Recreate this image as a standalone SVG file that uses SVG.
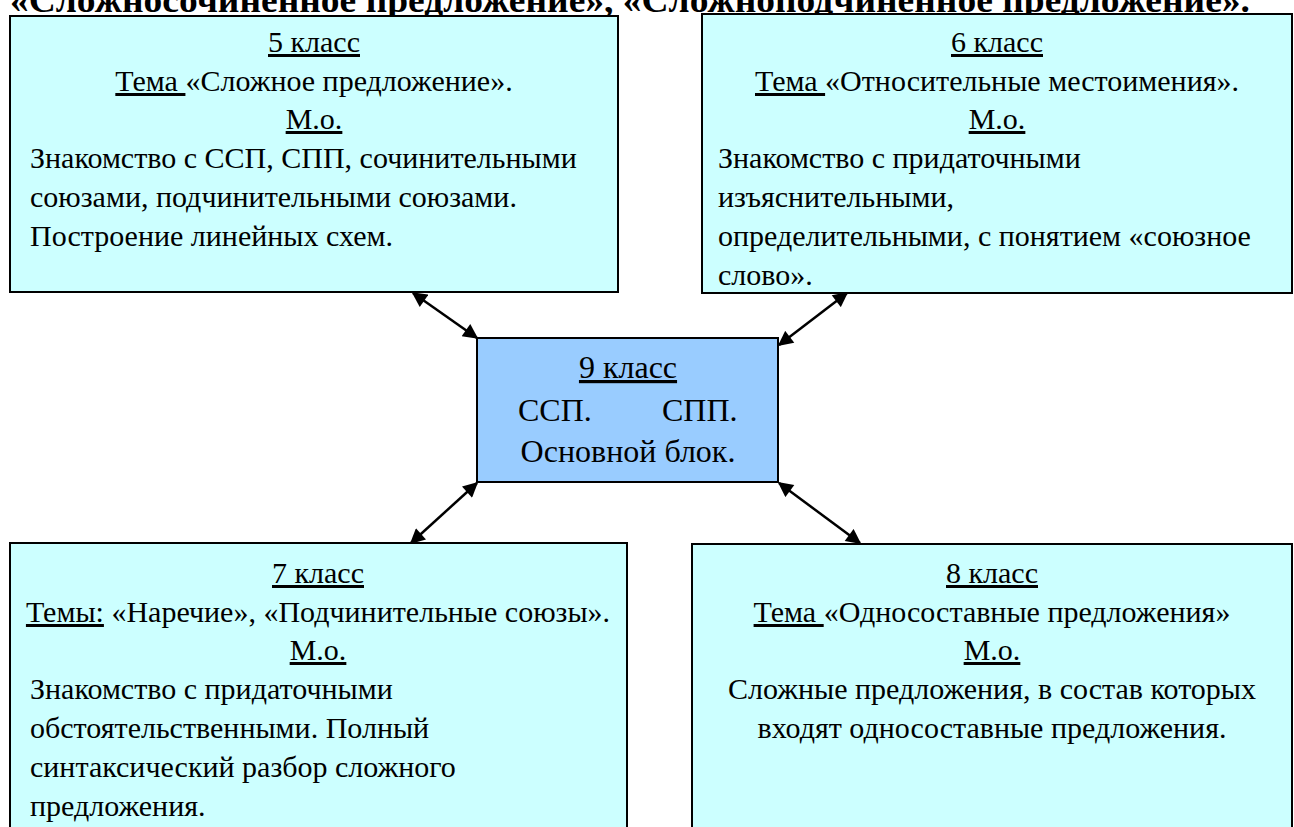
<svg xmlns="http://www.w3.org/2000/svg" width="1294" height="827" viewBox="0 0 1294 827">
<defs>
<style>
.box{fill:#CCFFFF;stroke:#000;stroke-width:2}
.main{fill:#99CCFF;stroke:#000;stroke-width:2}
text{font-family:"Liberation Serif","Times New Roman",serif;font-size:30px;fill:#000}
.c{text-anchor:middle}
.u{text-decoration:underline}
.big{font-size:32px}
.title{font-weight:bold;font-size:36px}
.con{stroke:#000;stroke-width:2.5;fill:none;marker-start:url(#ah);marker-end:url(#ah)}
</style>
<marker id="ah" viewBox="0 0 10 10" refX="9" refY="5" markerWidth="6.5" markerHeight="6" orient="auto-start-reverse" markerUnits="strokeWidth">
<path d="M0,0 L10,5 L0,10 Z" fill="#000"/>
</marker>
</defs>
<rect width="1294" height="827" fill="#fff"/>
<text class="title" x="10" y="12" textLength="1240" lengthAdjust="spacingAndGlyphs">«Сложносочиненное предложение», «Сложноподчиненное предложение».</text>

<g id="connectors">
<line class="con" x1="413" y1="293" x2="477" y2="338"/>
<line class="con" x1="847" y1="293" x2="779" y2="345"/>
<line class="con" x1="477" y1="483" x2="411" y2="543"/>
<line class="con" x1="779" y1="483" x2="860" y2="543"/>
</g>

<g id="node-5">
<rect class="box" x="10" y="16" width="608" height="276"/>
<text class="c" x="314" y="52"><tspan class="u">5 класс</tspan></text>
<text class="c" x="314" y="91"><tspan class="u">Тема </tspan>«Сложное предложение».</text>
<text class="c" x="314" y="129"><tspan class="u">М.о.</tspan></text>
<text x="30" y="168">Знакомство с ССП, СПП, сочинительными</text>
<text x="30" y="207">союзами, подчинительными союзами.</text>
<text x="30" y="246">Построение линейных схем.</text>
</g>

<g id="node-6">
<rect class="box" x="702" y="14" width="590" height="279"/>
<text class="c" x="997" y="52"><tspan class="u">6 класс</tspan></text>
<text class="c" x="997" y="91"><tspan class="u">Тема </tspan>«Относительные местоимения».</text>
<text class="c" x="997" y="129"><tspan class="u">М.о.</tspan></text>
<text x="718" y="168">Знакомство с придаточными</text>
<text x="718" y="207">изъяснительными,</text>
<text x="718" y="246">определительными, с понятием «союзное</text>
<text x="718" y="285">слово».</text>
</g>

<g id="node-9">
<rect class="main" x="477" y="338" width="301" height="144"/>
<text class="c big" x="628" y="378"><tspan class="u">9 класс</tspan></text>
<text class="big" x="518" y="421">ССП.</text>
<text class="big" x="662" y="421">СПП.</text>
<text class="c big" x="628" y="462">Основной блок.</text>
</g>

<g id="node-7">
<rect class="box" x="10" y="543" width="617" height="300"/>
<text class="c" x="318" y="583"><tspan class="u">7 класс</tspan></text>
<text class="c" x="318" y="622"><tspan class="u">Темы:</tspan> «Наречие», «Подчинительные союзы».</text>
<text class="c" x="318" y="660"><tspan class="u">М.о.</tspan></text>
<text x="30" y="699">Знакомство с придаточными</text>
<text x="30" y="738">обстоятельственными. Полный</text>
<text x="30" y="777">синтаксический разбор сложного</text>
<text x="30" y="816">предложения.</text>
</g>

<g id="node-8">
<rect class="box" x="692" y="544" width="600" height="300"/>
<text class="c" x="992" y="583"><tspan class="u">8 класс</tspan></text>
<text class="c" x="992" y="622"><tspan class="u">Тема </tspan>«Односоставные предложения»</text>
<text class="c" x="992" y="660"><tspan class="u">М.о.</tspan></text>
<text class="c" x="992" y="699">Сложные предложения, в состав которых</text>
<text class="c" x="992" y="738">входят односоставные предложения.</text>
</g>
</svg>
